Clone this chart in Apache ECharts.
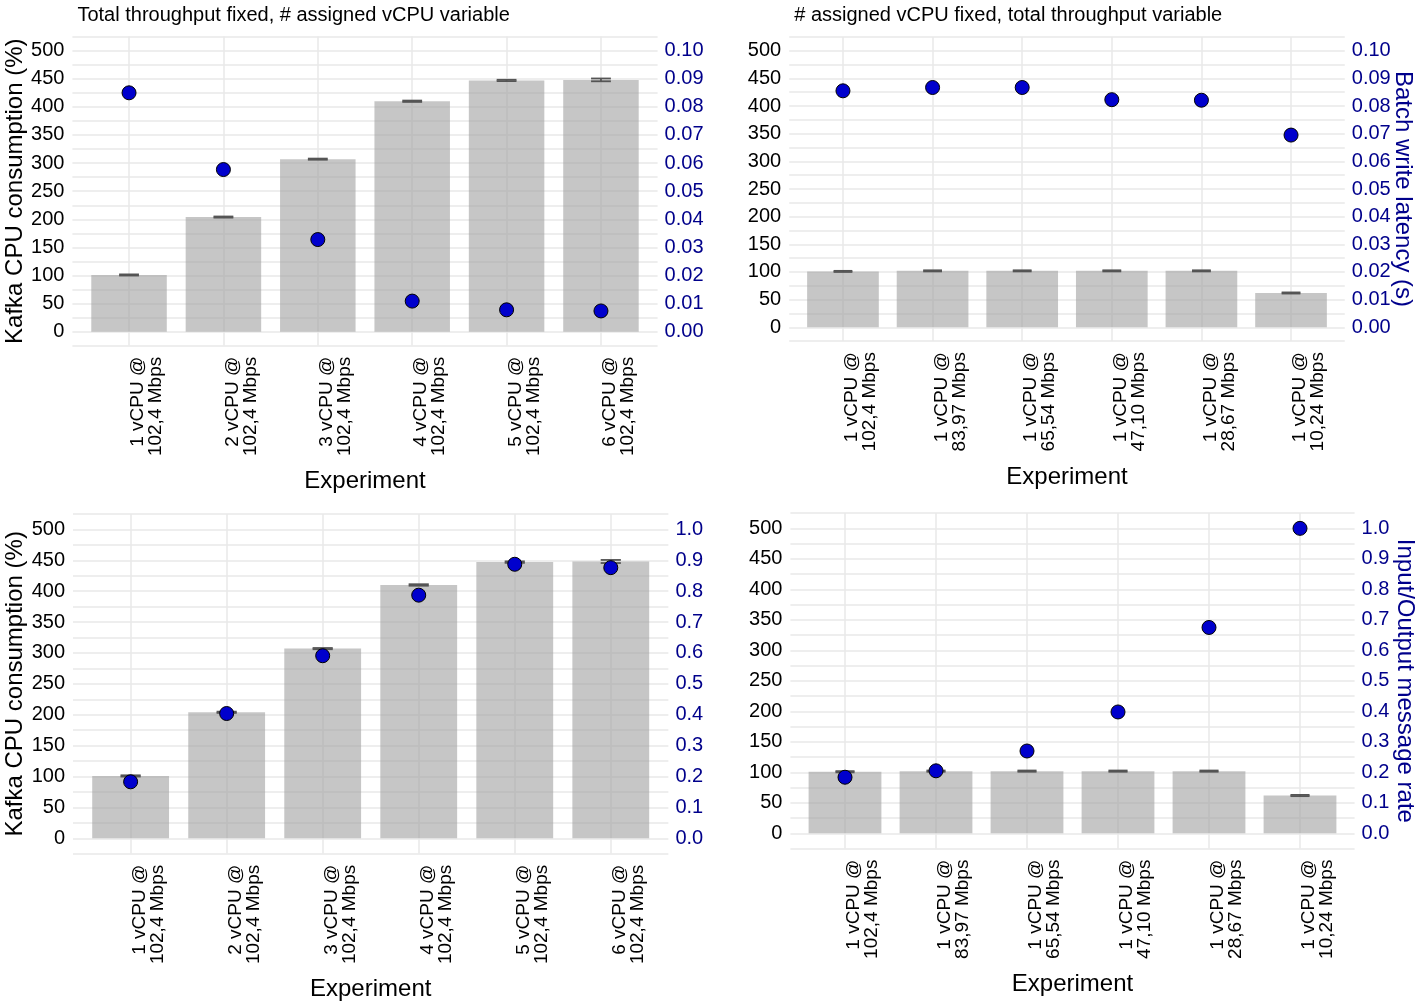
<!DOCTYPE html>
<html>
<head>
<meta charset="utf-8">
<title>Kafka CPU consumption</title>
<script src="https://cdn.jsdelivr.net/npm/echarts@6/dist/echarts.min.js"></script>
<style>
  html, body { margin: 0; padding: 0; background: #fff; }
  #chart { width: 1425px; height: 1004px; }
</style>
</head>
<body>
<div id="chart"></div>
<script>
// experiment names (x axis)
const labelsVcpu = ['1 vCPU @\n102,4 Mbps', '2 vCPU @\n102,4 Mbps', '3 vCPU @\n102,4 Mbps',
  '4 vCPU @\n102,4 Mbps', '5 vCPU @\n102,4 Mbps', '6 vCPU @\n102,4 Mbps'];
const labelsThroughput = ['1 vCPU @\n102,4 Mbps', '1 vCPU @\n83,97 Mbps', '1 vCPU @\n65,54 Mbps',
  '1 vCPU @\n47,10 Mbps', '1 vCPU @\n28,67 Mbps', '1 vCPU @\n10,24 Mbps'];

// Kafka CPU consumption (%) + error
const cpuVcpu = [101, 204, 307, 410, 447, 448];
const cpuVcpuErr = [1, 1, 1, 1.2, 1.2, 2.5];
const cpuThroughput = [101, 102, 102, 102, 102, 62];
const cpuThroughputErr = [1, 1, 1, 1, 1, 1];

// batch write latency (s)
const latencyVcpu = [0.0850, 0.0577, 0.0328, 0.0109, 0.0078, 0.0074];
const latencyThroughput = [0.0855, 0.0867, 0.0867, 0.0823, 0.0821, 0.0695];

// input/output message rate
const ioRateVcpu = [0.183, 0.404, 0.591, 0.787, 0.887, 0.876];
const ioRateThroughput = [0.184, 0.205, 0.270, 0.398, 0.675, 1.0];

const font = 'Liberation Sans, Arial, Helvetica, sans-serif';
const gridColor = '#E9E9E9';
const rightColor = '#00008B';

const chart = echarts.init(document.getElementById('chart'));

// box = [left, right, top, bottom] of the whole panel
const panels = [
  { box: [72.4, 657.6, 36.6, 345.8], title: 'Total throughput fixed, # assigned vCPU variable',
    labels: labelsVcpu, cpu: cpuVcpu, err: cpuVcpuErr, dots: latencyVcpu, rightMax: 0.1, digits: 2,
    leftName: 'Kafka CPU consumption (%)', rightName: '', rightGap: 40 },
  { box: [789.2, 1344.8, 36.9, 341.1], title: '# assigned vCPU fixed, total throughput variable',
    labels: labelsThroughput, cpu: cpuThroughput, err: cpuThroughputErr, dots: latencyThroughput, rightMax: 0.1, digits: 2,
    leftName: '', rightName: 'Batch write latency (s)', rightGap: 46 },
  { box: [73.0, 668.4, 513.9, 853.8], title: '',
    labels: labelsVcpu, cpu: cpuVcpu, err: cpuVcpuErr, dots: ioRateVcpu, rightMax: 1, digits: 1,
    leftName: 'Kafka CPU consumption (%)', rightName: '', rightGap: 40 },
  { box: [790.4, 1354.6, 513.1, 848.6], title: '',
    labels: labelsThroughput, cpu: cpuThroughput, err: cpuThroughputErr, dots: ioRateThroughput, rightMax: 1, digits: 1,
    leftName: '', rightName: 'Input/Output message rate', rightGap: 38 }
];

function renderErrorBar(params, api) {
  var x = api.value(0);
  var lo = api.coord([x, api.value(1)]);
  var hi = api.coord([x, api.value(2)]);
  var half = api.size([1, 0])[0] * 0.105;
  var style = { stroke: '#555555', lineWidth: 1.8 };
  return {
    type: 'group',
    children: [
      { type: 'line', shape: { x1: lo[0] - half, y1: lo[1], x2: lo[0] + half, y2: lo[1] }, style: style },
      { type: 'line', shape: { x1: hi[0] - half, y1: hi[1], x2: hi[0] + half, y2: hi[1] }, style: style },
      { type: 'line', shape: { x1: lo[0], y1: lo[1], x2: hi[0], y2: hi[1] }, style: style }
    ]
  };
}

var option = {
  animation: false,
  backgroundColor: '#fff',
  textStyle: { fontFamily: font },
  title: [],
  grid: [],
  xAxis: [],
  yAxis: [],
  series: []
};

panels.forEach(function (p, i) {
  var l = p.box[0], r = p.box[1], t = p.box[2], b = p.box[3];
  var step = (r - l) / 6.2;
  var rStep = p.rightMax / 20;

  // grid A: full panel (horizontal grid lines + y labels), grid B: the 6 category bands
  option.grid.push({ left: l, top: t, width: r - l, height: b - t });
  option.grid.push({ left: l + 0.1 * step, top: t, width: 6 * step, height: b - t });

  if (p.title) {
    option.title.push({
      text: p.title, left: l, top: 0,
      textStyle: { fontSize: 20, fontWeight: 'normal', color: '#000', fontFamily: font }
    });
  }

  option.xAxis.push({ gridIndex: 2 * i, type: 'value', min: 0, max: 1, show: false });
  option.xAxis.push({
    gridIndex: 2 * i + 1,
    type: 'category',
    data: p.labels,
    axisLine: { show: false },
    axisTick: { show: false },
    splitLine: { show: true, alignWithLabel: true, lineStyle: { color: gridColor, width: 1.5 } },
    axisLabel: {
      interval: 0, rotate: 90, verticalAlign: 'top', margin: 11,
      fontSize: 19, lineHeight: 18, color: '#000', fontFamily: font
    },
    name: 'Experiment',
    nameLocation: 'middle',
    nameGap: 124,
    nameTextStyle: { fontSize: 24, color: '#000', fontFamily: font }
  });

  // visible axes on grid A
  option.yAxis.push({
    gridIndex: 2 * i, type: 'value', position: 'left',
    min: -25, max: 525, interval: 25,
    axisLine: { show: false }, axisTick: { show: false },
    splitLine: { show: true, lineStyle: { color: gridColor, width: 1.5 } },
    axisLabel: {
      margin: 8, fontSize: 20, color: '#000', fontFamily: font,
      formatter: function (v) {
        var k = Math.round(v);
        return (k >= 0 && k <= 500 && k % 50 === 0) ? String(k) : '';
      }
    },
    name: p.leftName, nameLocation: 'middle', nameGap: 45,
    nameTextStyle: { fontSize: 24, color: '#000', fontFamily: font }
  });
  option.yAxis.push({
    gridIndex: 2 * i, type: 'value', position: 'right',
    min: -rStep, max: p.rightMax + rStep, interval: rStep,
    axisLine: { show: false }, axisTick: { show: false }, splitLine: { show: false },
    axisLabel: {
      margin: 7, fontSize: 20, color: rightColor, fontFamily: font,
      formatter: function (v) {
        var k = Math.round(v / rStep);
        return (k >= 0 && k <= 20 && k % 2 === 0) ? (k * rStep).toFixed(p.digits) : '';
      }
    },
    name: p.rightName, nameLocation: 'middle', nameRotate: -90, nameGap: p.rightGap,
    nameMoveOverlap: false,
    nameTextStyle: { fontSize: 24, color: rightColor, fontFamily: font }
  });
  // hidden axes on grid B with the same scales
  option.yAxis.push({ gridIndex: 2 * i + 1, type: 'value', min: -25, max: 525, show: false });
  option.yAxis.push({ gridIndex: 2 * i + 1, type: 'value', min: -rStep, max: p.rightMax + rStep, show: false });

  option.series.push({
    type: 'bar',
    xAxisIndex: 2 * i + 1, yAxisIndex: 4 * i + 2,
    data: p.cpu,
    barWidth: '80%',
    silent: true,
    itemStyle: { color: 'rgba(160,160,160,0.6)' }
  });
  option.series.push({
    type: 'custom',
    xAxisIndex: 2 * i + 1, yAxisIndex: 4 * i + 2,
    data: p.cpu.map(function (v, j) { return [j, v - p.err[j], v + p.err[j]]; }),
    encode: { x: 0, y: [1, 2] },
    renderItem: renderErrorBar,
    silent: true,
    z: 3
  });
  option.series.push({
    type: 'scatter',
    xAxisIndex: 2 * i + 1, yAxisIndex: 4 * i + 3,
    data: p.dots,
    symbolSize: 14,
    silent: true,
    itemStyle: { color: '#0000CD', borderColor: '#000', borderWidth: 1, opacity: 1 },
    z: 4
  });
});

chart.setOption(option);
</script>
</body>
</html>
